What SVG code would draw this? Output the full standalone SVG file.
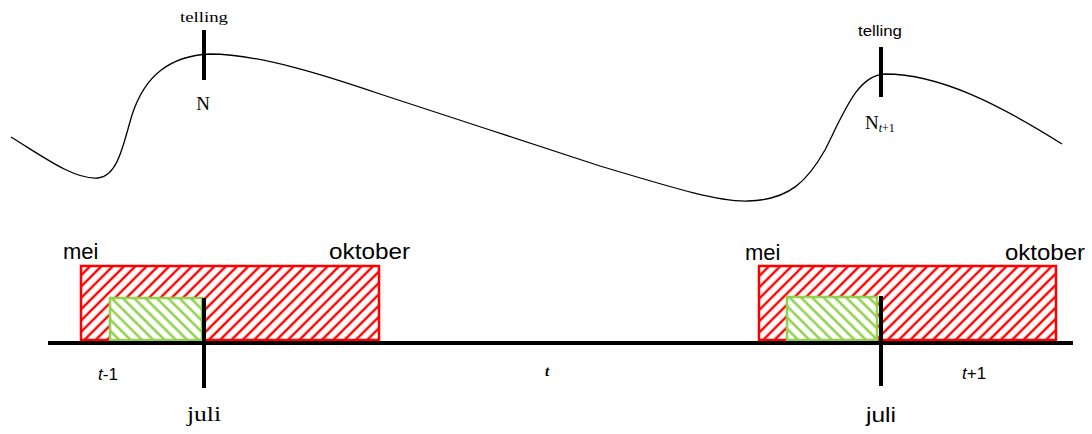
<svg xmlns="http://www.w3.org/2000/svg" width="1092" height="434" viewBox="0 0 1092 434">
<style>
.serif{font-family:"Liberation Serif","Times New Roman",serif;fill:#000}
.sans{font-family:"Liberation Sans",Arial,sans-serif;fill:#000}
.tick{stroke:#000;stroke-width:4;fill:none}
.red{fill:url(#hatchRed);stroke:#ff0000;stroke-width:2.5}
.green{fill:url(#hatchGreen);stroke:#92d050;stroke-width:2.5}
</style>
<defs>
<pattern id="hatchRed" width="8" height="8" patternUnits="userSpaceOnUse" patternTransform="rotate(45)">
<rect width="8" height="8" fill="#fff"/>
<line x1="4" y1="0" x2="4" y2="8" stroke="#ff0000" stroke-width="2.4"/>
</pattern>
<pattern id="hatchGreen" width="8" height="8" patternUnits="userSpaceOnUse" patternTransform="rotate(-45)">
<rect width="8" height="8" fill="#fff"/>
<line x1="4" y1="0" x2="4" y2="8" stroke="#92d050" stroke-width="2.6"/>
</pattern>
</defs>
<rect width="1092" height="434" fill="#fff"/>

<g id="curve">
<path d="M11,137 C45,158 75,180 98,178 C118,176 123,145 132,115 C145,75 170,56 210,54 C260,54 330,77 380,94 C450,117 530,143 600,166 C680,190 720,202 748,201 C790,200 808,180 825,150 C845,110 858,75 885,74 C940,74 1000,105 1062,144" fill="none" stroke="#000" stroke-width="1.3"/>
</g>

<g id="count-left">
<line class="tick" x1="204" y1="30" x2="204" y2="80"/>
<text class="serif" x="204" y="22" font-size="15" text-anchor="middle" textLength="48" lengthAdjust="spacingAndGlyphs">telling</text>
<text class="serif" x="203" y="110" font-size="19" text-anchor="middle">N</text>
</g>

<g id="count-right">
<line class="tick" x1="881" y1="47" x2="881" y2="97"/>
<text class="sans" x="880" y="36" font-size="14" text-anchor="middle" textLength="44" lengthAdjust="spacingAndGlyphs">telling</text>
<text class="serif" x="865" y="129" font-size="19">N<tspan font-size="12" font-style="italic" dy="3">t</tspan><tspan font-size="12">+1</tspan></text>
</g>

<g id="season-left">
<rect class="red" x="81" y="266" width="298" height="74"/>
<rect class="green" x="110" y="298" width="92" height="42"/>
<text class="sans" x="63" y="259" font-size="22">mei</text>
<text class="sans" x="329" y="259" font-size="22" textLength="81" lengthAdjust="spacingAndGlyphs">oktober</text>
</g>

<g id="season-right">
<rect class="red" x="759" y="266" width="297" height="74"/>
<rect class="green" x="787" y="297" width="90" height="43"/>
<text class="sans" x="745" y="260" font-size="22">mei</text>
<text class="sans" x="1005" y="260" font-size="22" textLength="80" lengthAdjust="spacingAndGlyphs">oktober</text>
</g>

<g id="connectors">
<line x1="48" y1="343" x2="1073" y2="343" stroke="#000" stroke-width="4"/>
<line class="tick" x1="204" y1="298" x2="204" y2="388"/>
<line class="tick" x1="881" y1="296" x2="881" y2="386"/>
</g>

<g id="labels">
<text class="sans" x="98" y="380" font-size="17"><tspan font-style="italic">t</tspan>-1</text>
<text class="serif" x="547" y="376" font-size="15" text-anchor="middle" font-style="italic" font-weight="bold">t</text>
<text class="sans" x="962" y="379" font-size="17"><tspan font-style="italic">t</tspan>+1</text>
<text class="serif" x="204" y="421" font-size="21" text-anchor="middle" textLength="34" lengthAdjust="spacingAndGlyphs">juli</text>
<text class="sans" x="881" y="422" font-size="20" text-anchor="middle" textLength="30" lengthAdjust="spacingAndGlyphs">juli</text>
</g>
</svg>
